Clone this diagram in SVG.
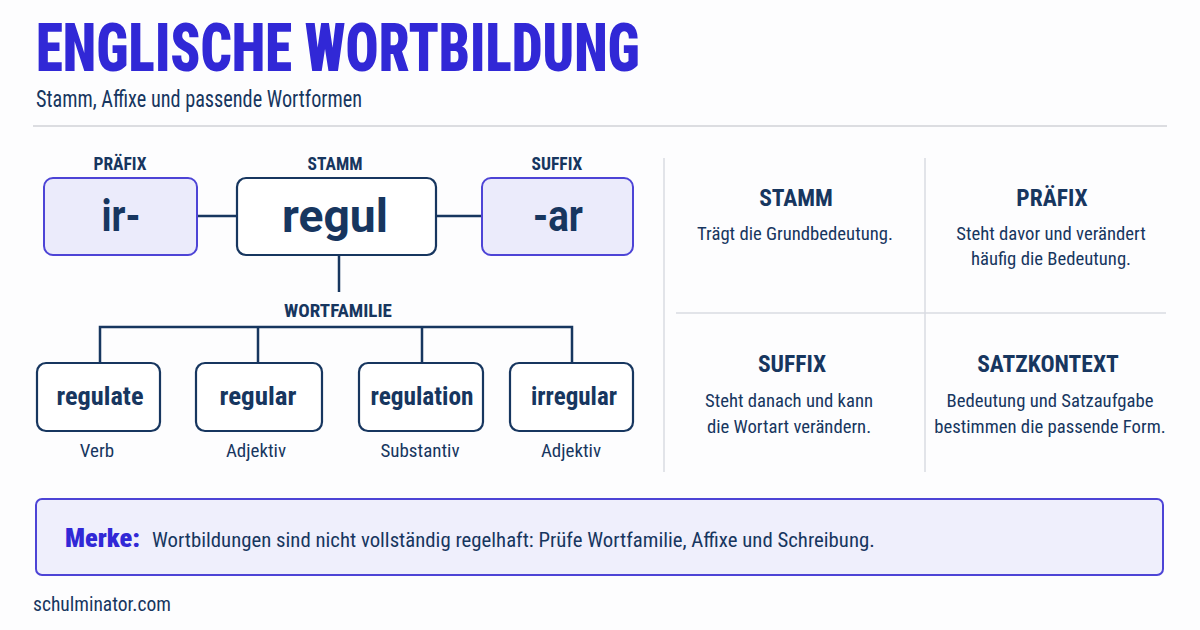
<svg xmlns="http://www.w3.org/2000/svg" width="1200" height="630" viewBox="0 0 1200 630">
<style>
text{font-family:"Roboto Condensed","Liberation Sans Narrow",Roboto,sans-serif;fill:#17365f}
.lbl{font-size:17.5px;font-weight:700;text-anchor:middle}
.big{font-family:Roboto,"Liberation Sans",sans-serif;font-weight:700;text-anchor:middle}
.fw{font-size:26.5px;font-weight:700;text-anchor:middle}
.pos{font-size:19px;text-anchor:middle}
.hd{font-size:23.5px;font-weight:700;text-anchor:middle}
.bd{font-size:18.7px;text-anchor:middle}
.aff{fill:#ebebfb;stroke:#4d44d6;stroke-width:2}
.stem{fill:#fff;stroke:#17365f;stroke-width:2.2}
.fam{fill:#fff;stroke:#17365f;stroke-width:2.2}
.con{stroke:#17365f;stroke-width:2.5;fill:none}
.grid{stroke:#d8dbe2;stroke-width:1.5}
</style>
<rect width="1200" height="630" fill="#fdfdfe"/>
<text x="36" y="71" style="font-size:66px;font-weight:900;fill:#3128d6" textLength="604" lengthAdjust="spacingAndGlyphs">ENGLISCHE WORTBILDUNG</text>
<text x="36" y="107" style="font-size:24px" textLength="326" lengthAdjust="spacingAndGlyphs">Stamm, Affixe und passende Wortformen</text>
<line x1="33" y1="126" x2="1167" y2="126" stroke="#dcdde1" stroke-width="2"/>

<g id="connectors">
<line class="con" x1="197" y1="216" x2="237" y2="216"/>
<line class="con" x1="436" y1="216" x2="482" y2="216"/>
<line class="con" x1="339" y1="255" x2="339" y2="292"/>
<polyline class="con" points="100,363 100,327 572,327 572,363"/>
<line class="con" x1="258" y1="327" x2="258" y2="363"/>
<line class="con" x1="422" y1="327" x2="422" y2="363"/>
</g>

<g id="prefix">
<text class="lbl" x="120" y="170">PRÄFIX</text>
<rect class="aff" x="44" y="178" width="153" height="77" rx="9"/>
<text class="big" x="121" y="231" style="font-size:44px" textLength="39" lengthAdjust="spacingAndGlyphs">ir-</text>
</g>
<g id="stem">
<text class="lbl" x="335" y="170">STAMM</text>
<rect class="stem" x="237" y="178" width="199" height="77" rx="9"/>
<text class="big" x="335" y="232" style="font-size:46px" textLength="106" lengthAdjust="spacingAndGlyphs">regul</text>
</g>
<g id="suffix">
<text class="lbl" x="557" y="170">SUFFIX</text>
<rect class="aff" x="482" y="178" width="151" height="77" rx="9"/>
<text class="big" x="558" y="231" style="font-size:44px" textLength="50" lengthAdjust="spacingAndGlyphs">-ar</text>
</g>
<text class="lbl" x="338" y="317" style="font-size:19px">WORTFAMILIE</text>

<g id="regulate">
<rect class="fam" x="37" y="363" width="123" height="68" rx="9"/>
<text class="fw" x="100" y="405" textLength="87" lengthAdjust="spacingAndGlyphs">regulate</text>
<text class="pos" x="97" y="457">Verb</text>
</g>
<g id="regular">
<rect class="fam" x="196" y="363" width="126" height="68" rx="9"/>
<text class="fw" x="258" y="405" textLength="77" lengthAdjust="spacingAndGlyphs">regular</text>
<text class="pos" x="256" y="457">Adjektiv</text>
</g>
<g id="regulation">
<rect class="fam" x="359" y="363" width="124" height="68" rx="9"/>
<text class="fw" x="422" y="405" textLength="103" lengthAdjust="spacingAndGlyphs">regulation</text>
<text class="pos" x="420" y="457">Substantiv</text>
</g>
<g id="irregular">
<rect class="fam" x="510" y="363" width="123" height="68" rx="9"/>
<text class="fw" x="574" y="405" textLength="86" lengthAdjust="spacingAndGlyphs">irregular</text>
<text class="pos" x="571" y="457">Adjektiv</text>
</g>

<g id="grid">
<line class="grid" x1="664" y1="158" x2="664" y2="472"/>
<line class="grid" x1="925" y1="158" x2="925" y2="472"/>
<line class="grid" x1="676" y1="313" x2="1166" y2="313"/>
</g>
<g id="card-stamm">
<text class="hd" x="796" y="206">STAMM</text>
<text class="bd" x="795" y="240">Trägt die Grundbedeutung.</text>
</g>
<g id="card-praefix">
<text class="hd" x="1052" y="206">PRÄFIX</text>
<text class="bd" x="1051" y="240">Steht davor und verändert</text>
<text class="bd" x="1051" y="265">häufig die Bedeutung.</text>
</g>
<g id="card-suffix">
<text class="hd" x="792" y="372">SUFFIX</text>
<text class="bd" x="789" y="407">Steht danach und kann</text>
<text class="bd" x="789" y="433">die Wortart verändern.</text>
</g>
<g id="card-satzkontext">
<text class="hd" x="1048" y="372">SATZKONTEXT</text>
<text class="bd" x="1050" y="407">Bedeutung und Satzaufgabe</text>
<text class="bd" x="1050" y="433">bestimmen die passende Form.</text>
</g>

<g id="merke">
<rect x="36" y="499" width="1127" height="76" rx="6" fill="#efeffc" stroke="#4d44d6" stroke-width="2"/>
<text x="65" y="547" style="font-size:26px;font-weight:900;fill:#3128d6" textLength="75" lengthAdjust="spacingAndGlyphs">Merke:</text>
<text x="152" y="547" style="font-size:20.8px">Wortbildungen sind nicht vollständig regelhaft: Prüfe Wortfamilie, Affixe und Schreibung.</text>
</g>
<text x="33" y="611" style="font-size:19.5px">schulminator.com</text>
</svg>
